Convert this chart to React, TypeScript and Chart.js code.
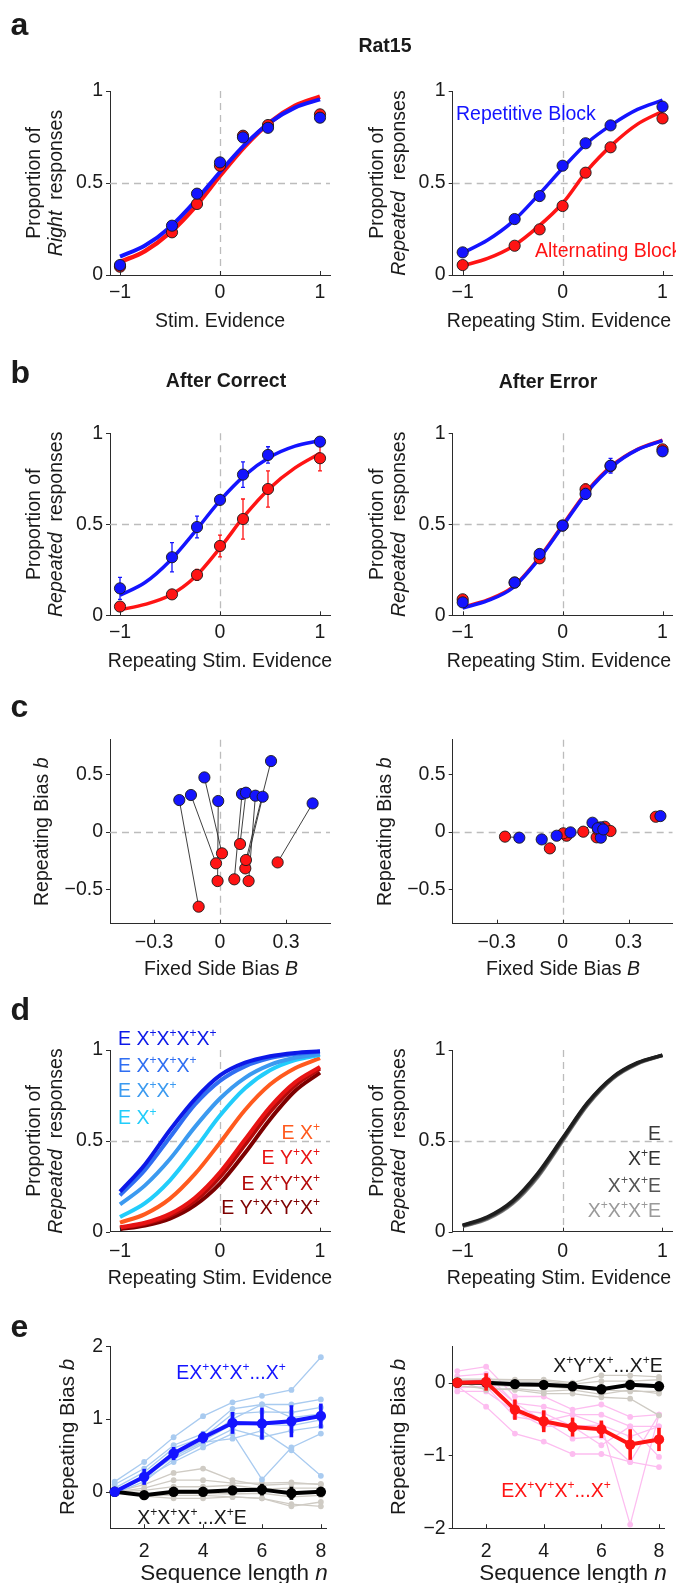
import React, { useEffect, useRef } from "react";
import { Chart, registerables } from "chart.js";
Chart.register(...registerables);

const FONT = '"Liberation Sans", Arial, Helvetica, sans-serif';
const FS = 19.5;
const TXT = "#1a1a1a";
const AXIS = "#2b2b2b";
const DASH = "#bcbcbc";
const BLUE = "#1414ff";
const RED = "#ff1414";

// ---------------- ticks ----------------
const psyXTicks = [-1, 0, 1];
const psyYTicks = [0, 0.5, 1];
const biasXTicks = [-0.3, 0, 0.3];
const biasYTicks = [-0.5, 0, 0.5];
const seqXTicks = [2, 4, 6, 8];
const seqLeftYTicks = [0, 1, 2];
const seqRightYTicks = [-2, -1, 0];

// ---------------- panel a / b : psychometric ----------------
const stimX = [-1, -0.48, -0.23, 0, 0.23, 0.48, 1];
const fitX = [-1, -0.75, -0.5, -0.25, 0, 0.25, 0.5, 0.75, 1];

const aRightRespRedPts = [0.045, 0.232, 0.386, 0.594, 0.757, 0.815, 0.873];
const aRightRespBluePts = [0.054, 0.268, 0.442, 0.612, 0.748, 0.8, 0.855];
const aRightRespRedFit = [0.07, 0.13, 0.23, 0.37, 0.54, 0.7, 0.83, 0.92, 0.97];
const aRightRespBlueFit = [0.1, 0.16, 0.26, 0.4, 0.56, 0.71, 0.83, 0.91, 0.955];

const aRepBluePts = [0.123, 0.304, 0.429, 0.594, 0.716, 0.813, 0.915];
const aRepRedPts = [0.054, 0.159, 0.248, 0.375, 0.556, 0.694, 0.851];
const aRepBlueFit = [0.12, 0.19, 0.29, 0.43, 0.58, 0.72, 0.82, 0.9, 0.95];
const aRepRedFit = [0.05, 0.09, 0.155, 0.26, 0.39, 0.57, 0.71, 0.82, 0.89];

const bCorrBluePts = [0.148, 0.319, 0.485, 0.634, 0.773, 0.881, 0.954];
const bCorrBlueErr = [0.06, 0.08, 0.06, 0.01, 0.07, 0.045, 0.01];
const bCorrRedPts = [0.048, 0.115, 0.222, 0.381, 0.529, 0.694, 0.863];
const bCorrRedErr = [0.01, 0.01, 0.03, 0.06, 0.11, 0.1, 0.07];
const bCorrBlueFit = [0.11, 0.18, 0.3, 0.46, 0.63, 0.77, 0.87, 0.93, 0.96];
const bCorrRedFit = [0.03, 0.06, 0.11, 0.21, 0.37, 0.55, 0.7, 0.81, 0.89];

const bErrRedPts = [0.088, 0.18, 0.313, 0.493, 0.692, 0.82, 0.912];
const bErrRedErr = [0.01, 0.01, 0.02, 0.01, 0.03, 0.03, 0.01];
const bErrBluePts = [0.071, 0.18, 0.337, 0.493, 0.667, 0.822, 0.901];
const bErrBlueErr = [0.01, 0.01, 0.01, 0.01, 0.03, 0.04, 0.01];
const bErrRedFit = [0.045, 0.085, 0.155, 0.305, 0.495, 0.685, 0.825, 0.912, 0.962];
const bErrBlueFit = [0.04, 0.08, 0.15, 0.3, 0.49, 0.68, 0.82, 0.91, 0.96];

// ---------------- panel c : biases ----------------
const cCorrBlueB = [-0.185, -0.132, -0.071, -0.008, 0.1, 0.118, 0.161, 0.194, 0.232, 0.421];
const cCorrBlueb = [0.275, 0.319, 0.472, 0.267, 0.328, 0.339, 0.313, 0.304, 0.614, 0.246];
const cCorrRedB = [-0.097, -0.018, 0.009, -0.011, 0.065, 0.091, 0.13, 0.115, 0.118, 0.262];
const cCorrRedb = [-0.652, -0.275, -0.188, -0.429, -0.414, -0.107, -0.429, -0.319, -0.246, -0.267];

const cErrRedB = [-0.262, -0.058, 0.018, 0.003, 0.094, 0.155, 0.162, 0.192, 0.218, 0.424];
const cErrRedb = [-0.043, -0.145, -0.035, -0.014, 0.0, -0.049, 0.014, 0.043, 0.006, 0.13];
const cErrBlueB = [-0.197, -0.095, -0.027, 0.036, 0.136, 0.174, 0.173, 0.16, 0.185, 0.445];
const cErrBlueb = [-0.052, -0.067, -0.035, -0.006, 0.078, -0.052, 0.038, 0.03, 0.02, 0.136];

// ---------------- panel d : model curves ----------------
const dLeftLabels = ["E X^+X^+X^+X^+", "E X^+X^+X^+", "E X^+X^+", "E X^+", "E X^+", "E Y^+X^+", "E X^+Y^+X^+", "E Y^+X^+Y^+X^+"];
const dLeftCurves = [
  [0.22, 0.37, 0.56, 0.73, 0.86, 0.93, 0.966, 0.984, 0.993],
  [0.2, 0.34, 0.52, 0.7, 0.83, 0.91, 0.955, 0.978, 0.99],
  [0.15, 0.255, 0.4, 0.577, 0.733, 0.847, 0.918, 0.957, 0.978],
  [0.081, 0.157, 0.283, 0.455, 0.639, 0.789, 0.888, 0.944, 0.973],
  [0.05, 0.097, 0.182, 0.318, 0.49, 0.67, 0.81, 0.9, 0.955],
  [0.024, 0.049, 0.098, 0.187, 0.327, 0.507, 0.686, 0.822, 0.907],
  [0.021, 0.044, 0.088, 0.169, 0.301, 0.478, 0.659, 0.804, 0.897],
  [0.014, 0.034, 0.072, 0.146, 0.265, 0.433, 0.618, 0.774, 0.875],
];
const dRightLabels = ["E", "X^+E", "X^+X^+E", "X^+X^+X^+E"];
const dRightCurves = [
  [0.036, 0.082, 0.17, 0.32, 0.515, 0.71, 0.85, 0.93, 0.972],
  [0.033, 0.078, 0.165, 0.313, 0.51, 0.706, 0.847, 0.928, 0.971],
  [0.031, 0.074, 0.16, 0.306, 0.504, 0.701, 0.844, 0.926, 0.97],
  [0.029, 0.07, 0.154, 0.299, 0.498, 0.696, 0.841, 0.924, 0.969],
];

// ---------------- panel e : sequence length ----------------
const seqN = [1, 2, 3, 4, 5, 6, 7, 8];
const eRepMean = [0, 0.206, 0.526, 0.746, 0.947, 0.938, 0.97, 1.043];
const eRepErr = [0.02, 0.11, 0.09, 0.08, 0.15, 0.22, 0.22, 0.17];
const eRepCtrlMean = [0, -0.046, 0, 0, 0.02, 0.03, -0.02, 0];
const eRepCtrlErr = [0.02, 0.05, 0.03, 0.03, 0.05, 0.08, 0.09, 0.03];
const eRepRats = [
  [0.14, 0.41, 0.75, 1.04, 1.23, 1.32, 1.4, 1.85],
  [0.1, 0.32, 0.64, 0.8, 1.14, 1.2, 1.2, 1.27],
  [0.05, 0.27, 0.6, 0.75, 1.07, 1.1, 1.09, 1.16],
  [0.0, 0.23, 0.55, 0.71, 1.0, 1.2, 1.02, 1.07],
  [0.0, 0.18, 0.5, 0.7, 0.93, 0.93, 0.91, 0.99],
  [-0.02, 0.14, 0.45, 0.66, 0.86, 0.75, 0.84, 0.9],
  [0.02, 0.18, 0.41, 0.61, 0.8, 0.17, 0.61, 0.8],
  [0.0, 0.2, 0.48, 0.68, 0.73, 0.84, 0.57, 0.22],
];
const eRepCtrlRats = [
  [0, 0.1, 0.26, 0.32, 0.16, 0.09, 0.11, 0.11],
  [0, 0.05, 0.16, 0.16, 0.12, 0.12, 0.13, 0.1],
  [0, 0.02, 0.07, 0.07, 0.09, 0.04, 0.05, 0.05],
  [0, -0.03, -0.02, -0.02, -0.03, -0.02, -0.07, -0.05],
  [0, -0.06, -0.09, -0.09, -0.07, -0.09, -0.2, -0.14],
  [0, -0.04, -0.05, -0.05, -0.07, -0.09, -0.17, -0.2],
];
const eAltMean = [0, 0.01, -0.37, -0.53, -0.61, -0.64, -0.85, -0.78];
const eAltErr = [0.02, 0.12, 0.14, 0.15, 0.13, 0.12, 0.21, 0.16];
const eAltCtrlMean = [0, 0, -0.02, -0.03, -0.05, -0.09, -0.03, -0.05];
const eAltCtrlErr = [0.02, 0.03, 0.04, 0.04, 0.04, 0.04, 0.05, 0.05];
const eAltRats = [
  [0.16, 0.22, -0.19, -0.19, -0.37, -0.3, -0.47, -0.44],
  [0.09, 0.12, -0.28, -0.33, -0.44, -0.44, -0.6, -0.6],
  [0.0, 0.0, -0.37, -0.42, -0.6, -0.58, -0.74, -0.6],
  [-0.07, -0.05, -0.47, -0.53, -0.77, -0.74, -1.09, -0.44],
  [-0.12, -0.12, -0.4, -0.6, -0.6, -0.86, -0.6, -1.02],
  [-0.05, -0.33, -0.7, -0.81, -0.98, -0.98, -1.09, -1.16],
  [0.0, 0.05, -0.28, -0.53, -0.44, -0.58, -1.95, -0.44],
];
const eAltCtrlRats = [
  [0.05, 0.05, 0.04, 0.04, 0.0, 0.1, 0.1, 0.08],
  [0.0, 0.02, 0.02, 0.02, -0.02, 0.02, 0.02, 0.04],
  [0.0, -0.03, -0.05, -0.05, -0.08, -0.1, -0.12, -0.12],
  [-0.04, -0.08, -0.1, -0.15, -0.15, -0.2, -0.22, -0.45],
  [0.02, -0.1, -0.08, -0.12, -0.1, -0.16, -0.1, -0.15],
];

// ---------------- styles ----------------
const dLeftColors = ["#0c18e8", "#2f6ef2", "#3b9af0", "#22cdfb", "#ff5a1e", "#e81414", "#b40a0a", "#7d0000"];
const dRightColors = ["#1e1e1e", "#3a3a3a", "#5a5a5a", "#8a8a8a"];
const dRightTextColors = ["#3a3a3a", "#333333", "#555555", "#9a9a9a"];
const LIGHT_BLUE = "#a9cbf0";
const LIGHT_GRAY = "#cfcbc4";
const LIGHT_PINK = "#fdbdf0";

// ---------------- helpers ----------------
const pts = (xs: number[], ys: number[]) => xs.map((x, i) => ({ x, y: ys[i] }));
const fmt = (v: number) => (v < 0 ? "\u2212" + String(Math.abs(v)) : String(v));

const markers = (data: any[], color: string, err?: number[], extra: any = {}) => ({
  data, showLine: false, pointRadius: 5.6, pointBackgroundColor: color,
  pointBorderColor: "#1a1a1a", pointBorderWidth: 0.9, borderColor: color, clip: false,
  err, errColor: color, errWidth: 1.3, errCap: 2, ...extra,
});
const curve = (data: any[], color: string, width: number) => ({
  data, pointRadius: 0, borderColor: color, borderWidth: width,
  cubicInterpolationMode: "monotone", clip: false,
});
const thinLine = (data: any[], color: string) => ({
  data, borderColor: color, borderWidth: 1.3, pointRadius: 2.9,
  pointBackgroundColor: color, pointBorderWidth: 0, clip: false,
});
const mainLine = (data: any[], color: string, err: number[]) => ({
  data, borderColor: color, borderWidth: 4, pointRadius: 5.2,
  pointBackgroundColor: color, pointBorderWidth: 0, clip: false,
  err, errColor: color, errWidth: 3.6, errCap: 0,
});

type Seg = { t: string; it: boolean; sup: boolean };
function parseRich(s: string): Seg[] {
  const out: Seg[] = [];
  let it = false;
  for (let i = 0; i < s.length; i++) {
    const c = s[i];
    if (c === "*") { it = !it; continue; }
    if (c === "^") { out.push({ t: s[i + 1], it, sup: true }); i++; continue; }
    const last = out[out.length - 1];
    if (last && !last.sup && last.it === it) last.t += c;
    else out.push({ t: c, it, sup: false });
  }
  return out;
}
function drawRich(ctx: CanvasRenderingContext2D, t: any, ox: number, oy: number) {
  const size = t.size || FS;
  const segs = parseRich(t.s);
  const fontFor = (sg: Seg) =>
    `${sg.it ? "italic " : ""}${t.bold ? "bold " : ""}${sg.sup ? size * 0.62 : size}px ${FONT}`;
  let w = 0;
  for (const sg of segs) { ctx.font = fontFor(sg); w += ctx.measureText(sg.t).width; }
  ctx.save();
  ctx.translate(t.x - ox, t.y - oy);
  if (t.rot) ctx.rotate(-Math.PI / 2);
  const align = t.align || "center";
  let cx = align === "left" ? 0 : align === "right" ? -w : -w / 2;
  ctx.fillStyle = t.color || TXT;
  ctx.textAlign = "left";
  ctx.textBaseline = "alphabetic";
  for (const sg of segs) {
    ctx.font = fontFor(sg);
    ctx.fillText(sg.t, cx, sg.sup ? -size * 0.4 : 0);
    cx += ctx.measureText(sg.t).width;
  }
  ctx.restore();
}

function makePlugin(p: any) {
  return {
    id: "figExtras",
    beforeDatasetsDraw(chart: any) {
      const { ctx, chartArea: a, scales } = chart;
      ctx.save();
      ctx.strokeStyle = DASH;
      ctx.lineWidth = 1.3;
      ctx.setLineDash([7, 5]);
      for (const v of p.hDash || []) {
        const py = Math.round(scales.y.getPixelForValue(v)) + 0.5;
        ctx.beginPath(); ctx.moveTo(a.left, py); ctx.lineTo(a.right, py); ctx.stroke();
      }
      for (const v of p.vDash || []) {
        const px = Math.round(scales.x.getPixelForValue(v)) + 0.5;
        ctx.beginPath(); ctx.moveTo(px, a.top); ctx.lineTo(px, a.bottom); ctx.stroke();
      }
      ctx.restore();
    },
    beforeDatasetDraw(chart: any, args: any) {
      const ds = chart.data.datasets[args.index];
      if (!ds.err) return;
      const { ctx, scales } = chart;
      ctx.save();
      ctx.strokeStyle = ds.errColor;
      ctx.lineWidth = ds.errWidth;
      ds.data.forEach((d: any, i: number) => {
        const e = ds.err[i];
        const px = scales.x.getPixelForValue(d.x);
        const y1 = scales.y.getPixelForValue(d.y - e);
        const y2 = scales.y.getPixelForValue(d.y + e);
        ctx.beginPath(); ctx.moveTo(px, y1); ctx.lineTo(px, y2);
        if (ds.errCap) {
          ctx.moveTo(px - ds.errCap, y1); ctx.lineTo(px + ds.errCap, y1);
          ctx.moveTo(px - ds.errCap, y2); ctx.lineTo(px + ds.errCap, y2);
        }
        ctx.stroke();
      });
      ctx.restore();
    },
    afterDraw(chart: any) {
      const { ctx, chartArea: a, scales } = chart;
      ctx.save();
      ctx.strokeStyle = AXIS;
      ctx.lineWidth = 1;
      for (const v of p.yTicks) {
        const py = Math.round(scales.y.getPixelForValue(v)) + 0.5;
        ctx.beginPath(); ctx.moveTo(a.left - 4, py); ctx.lineTo(a.left, py); ctx.stroke();
      }
      for (const v of p.xTicks) {
        const px = Math.round(scales.x.getPixelForValue(v)) + 0.5;
        ctx.beginPath(); ctx.moveTo(px, a.bottom); ctx.lineTo(px, a.bottom - 4); ctx.stroke();
      }
      ctx.restore();
      for (const t of p.texts || []) drawRich(ctx, t, p.x0, p.y0);
    },
  };
}

function buildConfig(p: any) {
  const L = p.plot[0] - p.x0, T = p.plot[1] - p.y0, R = p.plot[2] - p.x0, B = p.plot[3] - p.y0;
  const tickFont = { family: FONT, size: FS };
  return {
    type: "line",
    data: { datasets: p.datasets },
    options: {
      responsive: false,
      maintainAspectRatio: false,
      animation: false,
      devicePixelRatio: 1,
      events: [],
      layout: { autoPadding: false, padding: { left: 0, top: T, right: p.w - R, bottom: 0 } },
      plugins: { legend: { display: false }, tooltip: { enabled: false } },
      scales: {
        x: {
          type: "linear", min: p.xr[0], max: p.xr[1],
          afterBuildTicks: (s: any) => { s.ticks = p.xTicks.map((v: number) => ({ value: v })); },
          afterFit: (s: any) => { s.height = p.h - B; },
          grid: { display: false, drawTicks: false },
          border: { display: true, color: AXIS, width: 1 },
          ticks: { font: tickFont, color: TXT, padding: p.xPad, maxRotation: 0, minRotation: 0, autoSkip: false, callback: (v: number) => fmt(v) },
        },
        y: {
          type: "linear", min: p.yr[0], max: p.yr[1],
          afterBuildTicks: (s: any) => { s.ticks = p.yTicks.map((v: number) => ({ value: v })); },
          afterFit: (s: any) => { s.width = L; },
          grid: { display: false, drawTicks: false },
          border: { display: true, color: AXIS, width: 1 },
          ticks: { font: tickFont, color: TXT, padding: 7, autoSkip: false, callback: (v: number) => fmt(v) },
        },
      },
    },
    plugins: [makePlugin(p)],
  };
}

// ---------------- layout ----------------
const LX = { x0: 0, w: 338, L: 110, R: 330 };
const RX = { x0: 338, w: 338, L: 452.7, R: 672.5 };
const ROW = {
  a: { y0: 0, h: 335, T: 91, B: 275, xPad: 6, xt: 327, mid: 183 },
  b: { y0: 335, h: 340, T: 433.3, B: 615.3, xPad: 6, xt: 667, mid: 524.3 },
  c: { y0: 675, h: 305, T: 739.7, B: 923.7, xPad: 7.5, xt: 975, mid: 831.7 },
  d: { y0: 980, h: 310, T: 1050, B: 1231.7, xPad: 8, xt: 1284, mid: 1141 },
  e: { y0: 1290, h: 293, T: 1346.3, B: 1528.2, xPad: 11.5, xt: 1580, mid: 1437 },
};

const box = (col: any, row: any) => ({
  x0: col.x0, y0: row.y0, w: col.w, h: row.h,
  plot: [col.L, row.T, col.R, row.B], xPad: row.xPad,
});

const propTitle = (col: any, row: any, word: string) => [
  { x: col.L - 70, y: row.mid, s: "Proportion of", rot: true },
  { x: col.L - 48, y: row.mid, s: `*${word}*  responses`, rot: true },
];
const letter = (s: string, y: number) => ({ x: 10.5, y, s, size: 32, bold: true, align: "left" });

const cPairs = (bx: number[], by: number[], rx: number[], ry: number[]) =>
  bx.map((x, i) => ({
    data: [{ x, y: by[i] }, { x: rx[i], y: ry[i] }],
    borderColor: "#2a2a2a", borderWidth: 0.9, pointRadius: 0, clip: false,
  }));

const PANELS: any[] = [
  {
    ...box(LX, ROW.a), xr: [-1.1, 1.1], yr: [0, 1], xTicks: psyXTicks, yTicks: psyYTicks,
    hDash: [0.5], vDash: [0],
    datasets: [
      markers(pts(stimX, aRightRespBluePts), BLUE),
      markers(pts(stimX, aRightRespRedPts), RED),
      curve(pts(fitX, aRightRespBlueFit), BLUE, 4),
      curve(pts(fitX, aRightRespRedFit), RED, 4.5),
    ],
    texts: [
      letter("a", 35),
      ...propTitle(LX, ROW.a, "Right"),
      { x: 220, y: ROW.a.xt, s: "Stim. Evidence" },
    ],
  },
  {
    ...box(RX, ROW.a), xr: [-1.1, 1.1], yr: [0, 1], xTicks: psyXTicks, yTicks: psyYTicks,
    hDash: [0.5], vDash: [0],
    datasets: [
      markers(pts(stimX, aRepBluePts), BLUE),
      markers(pts(stimX, aRepRedPts), RED),
      curve(pts(fitX, aRepBlueFit), BLUE, 3.5),
      curve(pts(fitX, aRepRedFit), RED, 3.5),
    ],
    texts: [
      { x: 385, y: 52, s: "Rat15", bold: true },
      ...propTitle(RX, ROW.a, "Repeated"),
      { x: 456, y: 120, s: "Repetitive Block", color: BLUE, align: "left" },
      { x: 535, y: 257, s: "Alternating Block", color: RED, align: "left" },
      { x: 559, y: ROW.a.xt, s: "Repeating Stim. Evidence" },
    ],
  },
  {
    ...box(LX, ROW.b), xr: [-1.1, 1.1], yr: [0, 1], xTicks: psyXTicks, yTicks: psyYTicks,
    hDash: [0.5], vDash: [0],
    datasets: [
      markers(pts(stimX, bCorrBluePts), BLUE, bCorrBlueErr),
      markers(pts(stimX, bCorrRedPts), RED, bCorrRedErr),
      curve(pts(fitX, bCorrBlueFit), BLUE, 3.5),
      curve(pts(fitX, bCorrRedFit), RED, 3.5),
    ],
    texts: [
      letter("b", 383),
      { x: 226, y: 387, s: "After Correct", bold: true },
      ...propTitle(LX, ROW.b, "Repeated"),
      { x: 220, y: ROW.b.xt, s: "Repeating Stim. Evidence" },
    ],
  },
  {
    ...box(RX, ROW.b), xr: [-1.1, 1.1], yr: [0, 1], xTicks: psyXTicks, yTicks: psyYTicks,
    hDash: [0.5], vDash: [0],
    datasets: [
      markers(pts(stimX, bErrBluePts), BLUE, bErrBlueErr),
      markers(pts(stimX, bErrRedPts), RED, bErrRedErr),
      curve(pts(fitX, bErrBlueFit), BLUE, 3.5),
      curve(pts(fitX, bErrRedFit), RED, 3.5),
    ],
    texts: [
      { x: 548, y: 388, s: "After Error", bold: true },
      ...propTitle(RX, ROW.b, "Repeated"),
      { x: 559, y: ROW.b.xt, s: "Repeating Stim. Evidence" },
    ],
  },
  {
    ...box(LX, ROW.c), xr: [-0.5, 0.5], yr: [-0.8, 0.8], xTicks: biasXTicks, yTicks: biasYTicks,
    hDash: [0], vDash: [0],
    datasets: [
      markers(pts(cCorrBlueB, cCorrBlueb), BLUE),
      markers(pts(cCorrRedB, cCorrRedb), RED),
      ...cPairs(cCorrBlueB, cCorrBlueb, cCorrRedB, cCorrRedb),
    ],
    texts: [
      letter("c", 717),
      { x: LX.L - 62, y: ROW.c.mid, s: "Repeating Bias *b*", rot: true },
      { x: 221, y: ROW.c.xt, s: "Fixed Side Bias *B*" },
    ],
  },
  {
    ...box(RX, ROW.c), xr: [-0.5, 0.5], yr: [-0.8, 0.8], xTicks: biasXTicks, yTicks: biasYTicks,
    hDash: [0], vDash: [0],
    datasets: [
      markers(pts(cErrBlueB, cErrBlueb), BLUE),
      markers(pts(cErrRedB, cErrRedb), RED),
      ...cPairs(cErrBlueB, cErrBlueb, cErrRedB, cErrRedb),
    ],
    texts: [
      { x: RX.L - 62, y: ROW.c.mid, s: "Repeating Bias *b*", rot: true },
      { x: 563, y: ROW.c.xt, s: "Fixed Side Bias *B*" },
    ],
  },
  {
    ...box(LX, ROW.d), xr: [-1.1, 1.1], yr: [0, 1], xTicks: psyXTicks, yTicks: psyYTicks,
    hDash: [0.5], vDash: [0],
    datasets: dLeftCurves.map((c, i) => curve(pts(fitX, c), dLeftColors[i], 4)),
    texts: [
      letter("d", 1020),
      ...propTitle(LX, ROW.d, "Repeated"),
      ...[1045, 1072, 1097, 1124].map((y, i) => ({ x: 118, y, s: dLeftLabels[i], color: dLeftColors[i], align: "left" })),
      ...[1139, 1164, 1190, 1214].map((y, i) => ({ x: 320, y, s: dLeftLabels[i + 4], color: dLeftColors[i + 4], align: "right" })),
      { x: 220, y: ROW.d.xt, s: "Repeating Stim. Evidence" },
    ],
  },
  {
    ...box(RX, ROW.d), xr: [-1.1, 1.1], yr: [0, 1], xTicks: psyXTicks, yTicks: psyYTicks,
    hDash: [0.5], vDash: [0],
    datasets: dRightCurves.map((c, i) => curve(pts(fitX, c), dRightColors[i], 3.5)),
    texts: [
      ...propTitle(RX, ROW.d, "Repeated"),
      ...[1140, 1165, 1192, 1217].map((y, i) => ({ x: 661, y, s: dRightLabels[i], color: dRightTextColors[i], align: "right" })),
      { x: 559, y: ROW.d.xt, s: "Repeating Stim. Evidence" },
    ],
  },
  {
    ...box(LX, ROW.e), xr: [0.84, 8.2], yr: [-0.5, 2], xTicks: seqXTicks, yTicks: seqLeftYTicks,
    hDash: [], vDash: [],
    datasets: [
      mainLine(pts(seqN, eRepMean), BLUE, eRepErr),
      mainLine(pts(seqN, eRepCtrlMean), "#000000", eRepCtrlErr),
      ...eRepRats.map((r) => thinLine(pts(seqN, r), LIGHT_BLUE)),
      ...eRepCtrlRats.map((r) => thinLine(pts(seqN, r), LIGHT_GRAY)),
    ],
    texts: [
      letter("e", 1337),
      { x: LX.L - 36.5, y: ROW.e.mid, s: "Repeating Bias *b*", rot: true, size: 20.5 },
      { x: 231, y: 1379, s: "EX^+X^+X^+...X^+", color: BLUE },
      { x: 192, y: 1524, s: "X^+X^+X^+...X^+E" },
      { x: 234, y: ROW.e.xt, s: "Sequence length *n*", size: 22.5 },
    ],
  },
  {
    ...box(RX, ROW.e), xr: [0.84, 8.2], yr: [-2, 0.5], xTicks: seqXTicks, yTicks: seqRightYTicks,
    hDash: [], vDash: [],
    datasets: [
      mainLine(pts(seqN, eAltMean), RED, eAltErr),
      mainLine(pts(seqN, eAltCtrlMean), "#000000", eAltCtrlErr),
      ...eAltCtrlRats.map((r) => thinLine(pts(seqN, r), LIGHT_GRAY)),
      ...eAltRats.map((r) => thinLine(pts(seqN, r), LIGHT_PINK)),
    ],
    texts: [
      { x: RX.L - 48, y: ROW.e.mid, s: "Repeating Bias *b*", rot: true, size: 20.5 },
      { x: 608, y: 1372, s: "X^+Y^+X^+...X^+E" },
      { x: 556, y: 1497, s: "EX^+Y^+X^+...X^+", color: RED },
      { x: 573, y: ROW.e.xt, s: "Sequence length *n*", size: 22.5 },
    ],
  },
];

function PanelChart({ p }: { p: any }) {
  const ref = useRef<HTMLCanvasElement>(null);
  useEffect(() => {
    const c = ref.current;
    if (!c) return;
    const chart = new Chart(c, buildConfig(p) as any);
    return () => chart.destroy();
  }, [p]);
  return (
    <canvas
      ref={ref}
      width={p.w}
      height={p.h}
      style={{ position: "absolute", left: p.x0, top: p.y0, width: p.w, height: p.h }}
    />
  );
}

export default function App() {
  return (
    <div style={{ position: "absolute", left: 0, top: 0, width: 676, height: 1583, overflow: "hidden", background: "#fff" }}>
      {PANELS.map((p, i) => (
        <PanelChart key={i} p={p} />
      ))}
    </div>
  );
}
